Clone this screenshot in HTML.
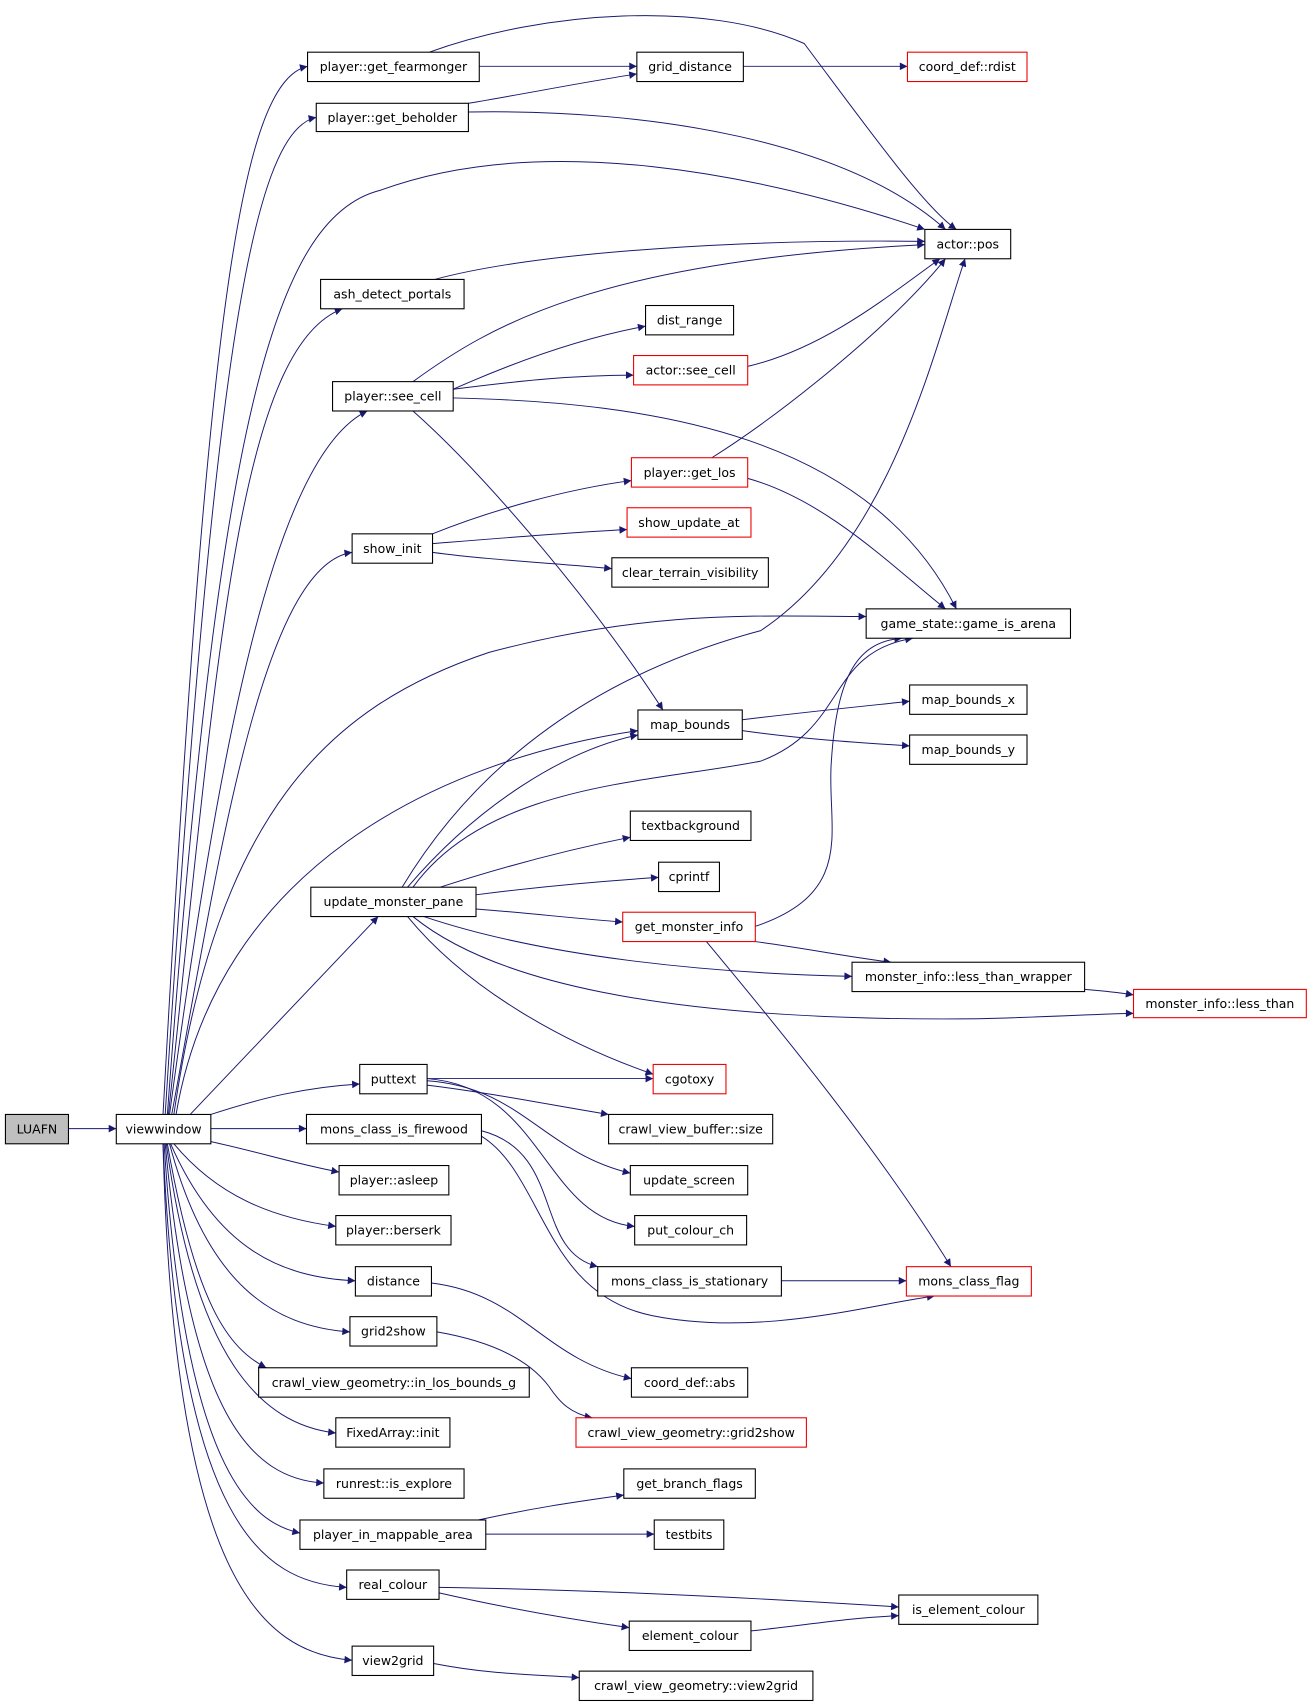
<!DOCTYPE html>
<html><head><meta charset="utf-8"><style>
html,body{margin:0;padding:0;background:#fff;}
svg{display:block;}
text{font-family:"DejaVu Sans","Liberation Sans",sans-serif;font-size:11.5px;fill:#000;}
.n{fill:#fff;stroke:#000;stroke-width:1;}
.r{fill:#fff;stroke:#e00;stroke-width:1;}
.e{fill:none;stroke:#191970;stroke-width:0.9;}
</style></head><body>
<svg width="1315" height="1707" viewBox="0 0 1210 1570" preserveAspectRatio="none" xmlns="http://www.w3.org/2000/svg">
<defs><marker id="a" viewBox="0 0 10 10" refX="10" refY="5" markerWidth="10" markerHeight="7" markerUnits="userSpaceOnUse" orient="auto"><path d="M0,0 L10,5 L0,10 z" fill="#191970"/></marker></defs>
<g class="e" marker-end="url(#a)">
<path d="M63,1038 L107,1038"/>
<path d="M150,1025 C190,300 220,75 283,61"/>
<path d="M152,1025 C195,350 230,120 291,108"/>
<path d="M154,1025 C200,400 250,200 350,175 C500,120 700,160 851,211"/>
<path d="M155,1025 C200,600 220,320 315,284"/>
<path d="M156,1025 C200,700 250,420 338,378"/>
<path d="M158,1025 C200,800 240,520 324,508"/>
<path d="M160,1025 C200,750 300,650 450,600 C600,560 700,567 797,567"/>
<path d="M162,1025 C200,800 400,700 587,672"/>
<path d="M175,1025 L348,843"/>
<path d="M194,1025 C240,1010 280,1000 331,997"/>
<path d="M194,1038 L282,1038"/>
<path d="M194,1050 C240,1060 270,1070 312,1078"/>
<path d="M160,1052 C200,1100 250,1120 309,1128"/>
<path d="M157,1052 C200,1150 260,1175 327,1178"/>
<path d="M156,1052 C190,1180 250,1220 322,1225"/>
<path d="M154,1052 C180,1200 210,1240 245,1258"/>
<path d="M153,1052 C180,1250 240,1310 309,1318"/>
<path d="M152,1052 C175,1300 230,1360 298,1364"/>
<path d="M151,1052 C170,1350 230,1400 276,1410"/>
<path d="M150,1052 C165,1400 240,1455 319,1460"/>
<path d="M150,1052 C160,1450 240,1520 324,1527"/>
<path d="M441,61 L586,61"/>
<path d="M395,48 C500,10 650,0 740,40 C800,120 850,190 880,211"/>
<path d="M431,95 C490,85 540,75 586,68"/>
<path d="M431,103 C600,100 780,130 870,211"/>
<path d="M684,61 L835,61"/>
<path d="M400,257 C500,230 700,220 851,222"/>
<path d="M380,351 C450,300 550,240 851,225"/>
<path d="M417,358 C480,330 540,310 594,300"/>
<path d="M417,358 C480,350 530,345 583,345"/>
<path d="M417,366 C600,370 800,400 880,560"/>
<path d="M380,378 C450,440 550,560 610,653"/>
<path d="M688,337 C760,320 820,270 865,238"/>
<path d="M655,421 C720,380 820,300 870,238"/>
<path d="M688,440 C760,460 820,520 870,560"/>
<path d="M398,491 C450,470 520,450 581,442"/>
<path d="M398,500 C460,495 520,490 577,487"/>
<path d="M398,508 C450,515 510,518 563,523"/>
<path d="M683,662 C740,655 790,650 837,645"/>
<path d="M683,672 C740,680 790,683 837,686"/>
<path d="M370,816 C440,700 550,620 700,580 C820,500 860,320 888,238"/>
<path d="M375,816 C440,740 520,690 587,676"/>
<path d="M380,816 C450,720 600,720 700,700 C780,670 760,600 840,587"/>
<path d="M405,816 C470,795 530,780 580,770"/>
<path d="M438,823 C500,815 560,810 606,807"/>
<path d="M438,836 C490,840 530,845 573,848"/>
<path d="M390,843 C500,880 650,895 784,898"/>
<path d="M380,843 C450,900 600,940 900,937 C980,935 1020,932 1043,932"/>
<path d="M375,843 C430,910 520,960 601,988"/>
<path d="M695,852 C790,820 760,760 765,700 C770,620 790,590 830,587"/>
<path d="M695,866 C740,872 780,880 820,885"/>
<path d="M650,866 C720,950 810,1060 875,1165"/>
<path d="M998,910 C1010,911 1030,913 1043,915"/>
<path d="M393,992 L601,992"/>
<path d="M393,998 C450,1005 500,1015 560,1025"/>
<path d="M393,994 C480,1000 500,1060 580,1079"/>
<path d="M393,992 C500,1000 500,1120 584,1128"/>
<path d="M443,1040 C520,1060 490,1150 550,1165"/>
<path d="M443,1045 C500,1080 500,1190 600,1210 C700,1230 800,1200 860,1192"/>
<path d="M719,1178 L834,1178"/>
<path d="M397,1180 C480,1190 500,1250 581,1268"/>
<path d="M402,1225 C460,1235 490,1255 505,1275 C515,1290 525,1300 545,1304"/>
<path d="M440,1398 C500,1385 540,1380 574,1375"/>
<path d="M447,1411 L602,1411"/>
<path d="M404,1460 C550,1462 700,1470 827,1478"/>
<path d="M404,1465 C470,1480 530,1490 579,1497"/>
<path d="M691,1500 C740,1495 780,1488 827,1486"/>
<path d="M399,1530 C450,1540 490,1540 533,1543"/>
</g>
<g>
<rect x="5" y="1025" width="58" height="27" fill="#bfbfbf" stroke="#000"/><text x="34" y="1042.5" text-anchor="middle">LUAFN</text>
<rect class="n" x="107" y="1025" width="87" height="27"/><text x="150.5" y="1042.5" text-anchor="middle">viewwindow</text>
<rect class="n" x="283" y="48" width="158" height="27"/><text x="362" y="65.5" text-anchor="middle">player::get_fearmonger</text>
<rect class="n" x="586" y="48" width="98" height="27"/><text x="635" y="65.5" text-anchor="middle">grid_distance</text>
<rect class="r" x="835" y="48" width="110" height="27"/><text x="890" y="65.5" text-anchor="middle">coord_def::rdist</text>
<rect class="n" x="291" y="95" width="140" height="26"/><text x="361" y="112" text-anchor="middle">player::get_beholder</text>
<rect class="n" x="851" y="211" width="79" height="27"/><text x="890.5" y="228.5" text-anchor="middle">actor::pos</text>
<rect class="n" x="295" y="257" width="132" height="27"/><text x="361" y="274.5" text-anchor="middle">ash_detect_portals</text>
<rect class="n" x="594" y="281" width="81" height="27"/><text x="634.5" y="298.5" text-anchor="middle">dist_range</text>
<rect class="r" x="583" y="327" width="105" height="27"/><text x="635.5" y="344.5" text-anchor="middle">actor::see_cell</text>
<rect class="n" x="306" y="351" width="111" height="27"/><text x="361.5" y="368.5" text-anchor="middle">player::see_cell</text>
<rect class="r" x="581" y="421" width="107" height="27"/><text x="634.5" y="438.5" text-anchor="middle">player::get_los</text>
<rect class="r" x="577" y="467" width="114" height="27"/><text x="634" y="484.5" text-anchor="middle">show_update_at</text>
<rect class="n" x="324" y="491" width="74" height="27"/><text x="361" y="508.5" text-anchor="middle">show_init</text>
<rect class="n" x="563" y="513" width="144" height="27"/><text x="635" y="530.5" text-anchor="middle">clear_terrain_visibility</text>
<rect class="n" x="797" y="560" width="188" height="27"/><text x="891" y="577.5" text-anchor="middle">game_state::game_is_arena</text>
<rect class="n" x="587" y="653" width="96" height="27"/><text x="635" y="670.5" text-anchor="middle">map_bounds</text>
<rect class="n" x="837" y="630" width="108" height="27"/><text x="891" y="647.5" text-anchor="middle">map_bounds_x</text>
<rect class="n" x="837" y="676" width="108" height="27"/><text x="891" y="693.5" text-anchor="middle">map_bounds_y</text>
<rect class="n" x="580" y="746" width="111" height="27"/><text x="635.5" y="763.5" text-anchor="middle">textbackground</text>
<rect class="n" x="606" y="793" width="56" height="27"/><text x="634" y="810.5" text-anchor="middle">cprintf</text>
<rect class="n" x="286" y="816" width="152" height="27"/><text x="362" y="833.5" text-anchor="middle">update_monster_pane</text>
<rect class="r" x="573" y="839" width="122" height="27"/><text x="634" y="856.5" text-anchor="middle">get_monster_info</text>
<rect class="n" x="784" y="885" width="214" height="27"/><text x="891" y="902.5" text-anchor="middle">monster_info::less_than_wrapper</text>
<rect class="r" x="1043" y="910" width="159" height="26"/><text x="1122.5" y="927" text-anchor="middle">monster_info::less_than</text>
<rect class="r" x="601" y="979" width="67" height="27"/><text x="634.5" y="996.5" text-anchor="middle">cgotoxy</text>
<rect class="n" x="331" y="979" width="62" height="27"/><text x="362" y="996.5" text-anchor="middle">puttext</text>
<rect class="n" x="560" y="1025" width="151" height="27"/><text x="635.5" y="1042.5" text-anchor="middle">crawl_view_buffer::size</text>
<rect class="n" x="282" y="1025" width="161" height="27"/><text x="362.5" y="1042.5" text-anchor="middle">mons_class_is_firewood</text>
<rect class="n" x="580" y="1072" width="108" height="27"/><text x="634" y="1089.5" text-anchor="middle">update_screen</text>
<rect class="n" x="312" y="1072" width="101" height="27"/><text x="362.5" y="1089.5" text-anchor="middle">player::asleep</text>
<rect class="n" x="584" y="1118" width="103" height="27"/><text x="635.5" y="1135.5" text-anchor="middle">put_colour_ch</text>
<rect class="n" x="309" y="1118" width="106" height="27"/><text x="362" y="1135.5" text-anchor="middle">player::berserk</text>
<rect class="n" x="550" y="1165" width="169" height="27"/><text x="634.5" y="1182.5" text-anchor="middle">mons_class_is_stationary</text>
<rect class="r" x="834" y="1165" width="115" height="27"/><text x="891.5" y="1182.5" text-anchor="middle">mons_class_flag</text>
<rect class="n" x="327" y="1165" width="70" height="27"/><text x="362" y="1182.5" text-anchor="middle">distance</text>
<rect class="n" x="581" y="1258" width="107" height="27"/><text x="634.5" y="1275.5" text-anchor="middle">coord_def::abs</text>
<rect class="n" x="322" y="1211" width="80" height="27"/><text x="362" y="1228.5" text-anchor="middle">grid2show</text>
<rect class="n" x="238" y="1258" width="249" height="27"/><text x="362.5" y="1275.5" text-anchor="middle">crawl_view_geometry::in_los_bounds_g</text>
<rect class="r" x="530" y="1304" width="212" height="27"/><text x="636" y="1321.5" text-anchor="middle">crawl_view_geometry::grid2show</text>
<rect class="n" x="309" y="1304" width="105" height="27"/><text x="361.5" y="1321.5" text-anchor="middle">FixedArray::init</text>
<rect class="n" x="574" y="1351" width="121" height="27"/><text x="634.5" y="1368.5" text-anchor="middle">get_branch_flags</text>
<rect class="n" x="298" y="1351" width="129" height="27"/><text x="362.5" y="1368.5" text-anchor="middle">runrest::is_explore</text>
<rect class="n" x="276" y="1398" width="171" height="27"/><text x="361.5" y="1415.5" text-anchor="middle">player_in_mappable_area</text>
<rect class="n" x="602" y="1398" width="64" height="27"/><text x="634" y="1415.5" text-anchor="middle">testbits</text>
<rect class="n" x="319" y="1444" width="85" height="27"/><text x="361.5" y="1461.5" text-anchor="middle">real_colour</text>
<rect class="n" x="827" y="1467" width="128" height="27"/><text x="891" y="1484.5" text-anchor="middle">is_element_colour</text>
<rect class="n" x="579" y="1491" width="112" height="27"/><text x="635" y="1508.5" text-anchor="middle">element_colour</text>
<rect class="n" x="324" y="1514" width="75" height="27"/><text x="361.5" y="1531.5" text-anchor="middle">view2grid</text>
<rect class="n" x="533" y="1537" width="215" height="27"/><text x="640.5" y="1554.5" text-anchor="middle">crawl_view_geometry::view2grid</text>
</g>
</svg>
</body></html>
